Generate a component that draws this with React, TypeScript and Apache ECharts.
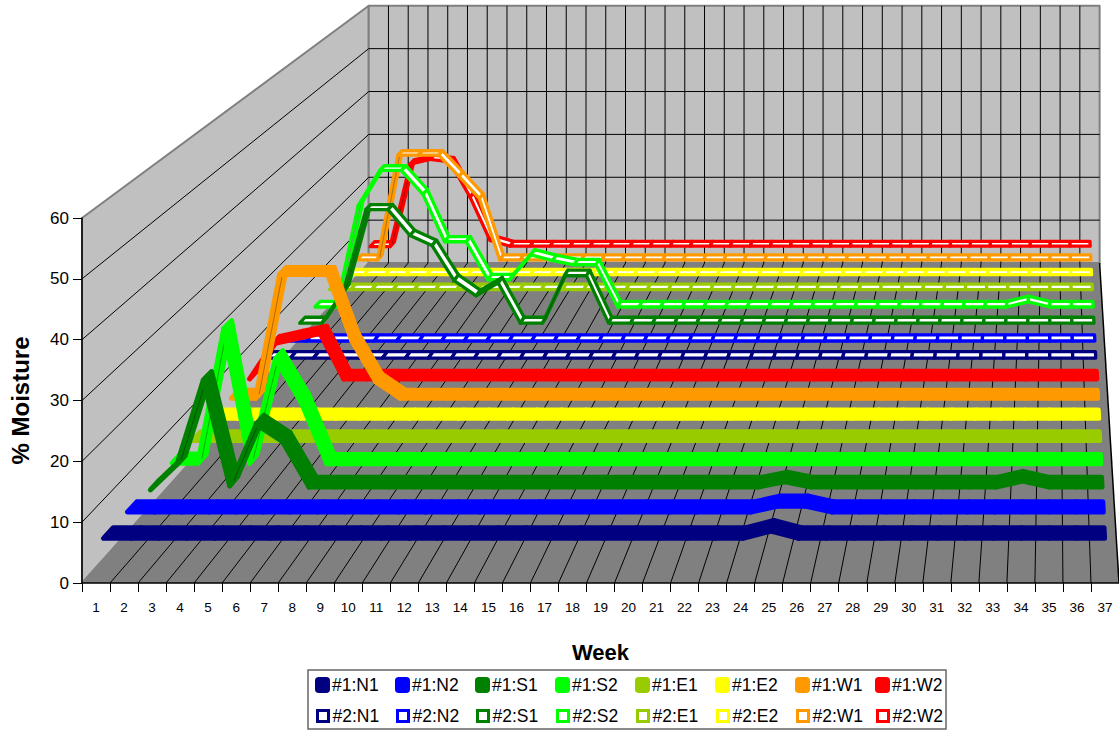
import React, { useEffect, useRef } from "react";
import * as echarts from "echarts";

// Week labels along the front edge of the floor
const weeks = ["1","2","3","4","5","6","7","8","9","10","11","12","13","14","15","16","17","18","19","20","21","22","23","24","25","26","27","28","29","30","31","32","33","34","35","36","37"];

// Moisture readings, one list per probe; front-most ribbon first
const p1N1 = [6,6,6,6,6,6,6,6,6,6,6,6,6,6,6,6,6,6,6,6,6,6,6,6,7.2,6,6,6,6,6,6,6,6,6,6,6,6];
const p1N2 = [6,6,6,6,6,6,6,6,6,6,6,6,6,6,6,6,6,6,6,6,6,6,6,6,7,7,6,6,6,6,6,6,6,6,6,6,6];
const p1S1 = [5.5,9.9,24.6,6.2,16.9,13.9,6,6,6,6,6,6,6,6,6,6,6,6,6,6,6,6,6,6,6.9,6,6,6,6,6,6,6,6,7.05,6,6,6];
const p1S2 = [6,6,30,6,24.6,16.9,5.9,5.9,5.9,5.9,5.9,5.9,5.9,5.9,5.9,5.9,5.9,5.9,5.9,5.9,5.9,5.9,5.9,5.9,5.9,5.9,5.9,5.9,5.9,5.9,5.9,5.9,5.9,5.9,5.9,5.9,5.9];
const p1E1 = [6,6,6,6,6,6,6,6,6,6,6,6,6,6,6,6,6,6,6,6,6,6,6,6,6,6,6,6,6,6,6,6,6,6,6,6,6];
const p1E2 = [6.1,6.1,6.1,6.1,6.1,6.1,6.1,6.1,6.1,6.1,6.1,6.1,6.1,6.1,6.1,6.1,6.1,6.1,6.1,6.1,6.1,6.1,6.1,6.1,6.1,6.1,6.1,6.1,6.1,6.1,6.1,6.1,6.1,6.1,6.1,6.1,6.1];
const p1W1 = [6,6,29.7,29.7,29.7,17,9.1,6,6,6,6,6,6,6,6,6,6,6,6,6,6,6,6,6,6,6,6,6,6,6,6,6,6,6,6,6,6];
const p1W2 = [5.9,12.8,13.8,14.8,5.9,5.9,5.9,5.9,5.9,5.9,5.9,5.9,5.9,5.9,5.9,5.9,5.9,5.9,5.9,5.9,5.9,5.9,5.9,5.9,5.9,5.9,5.9,5.9,5.9,5.9,5.9,5.9,5.9,5.9,5.9,5.9,5.9];
const p2N1 = [6.2,6.2,6.2,6.2,6.2,6.2,6.2,6.2,6.2,6.2,6.2,6.2,6.2,6.2,6.2,6.2,6.2,6.2,6.2,6.2,6.2,6.2,6.2,6.2,6.2,6.2,6.2,6.2,6.2,6.2,6.2,6.2,6.2,6.2,6.2,6.2,6.2];
const p2N2 = [6,6,6,6,6,6,6,6,6,6,6,6,6,6,6,6,6,6,6,6,6,6,6,6,6,6,6,6,6,6,6,6,6,6,6,6,6];
const p2S1 = [6.1,6.1,13,29.8,29.8,24.4,22.3,15,11.8,14.5,6.1,6.1,16,16,6.1,6.1,6.1,6.1,6.1,6.1,6.1,6.1,6.1,6.1,6.1,6.1,6.1,6.1,6.1,6.1,6.1,6.1,6.1,6.1,6.1,6.1,6.1];
const p2S2 = [6,6,27.6,35.1,35.1,30,19.9,19.9,11.8,11.8,17.1,15.9,15,15,6,6,6,6,6,6,6,6,6,6,6,6,6,6,6,6,6,6,6,7.1,6,6,6];
const p2E1 = [6.3,6.3,6.3,6.3,6.3,6.3,6.3,6.3,6.3,6.3,6.3,6.3,6.3,6.3,6.3,6.3,6.3,6.3,6.3,6.3,6.3,6.3,6.3,6.3,6.3,6.3,6.3,6.3,6.3,6.3,6.3,6.3,6.3,6.3,6.3,6.3,6.3];
const p2E2 = [6.2,6.2,6.2,6.2,6.2,6.2,6.2,6.2,6.2,6.2,6.2,6.2,6.2,6.2,6.2,6.2,6.2,6.2,6.2,6.2,6.2,6.2,6.2,6.2,6.2,6.2,6.2,6.2,6.2,6.2,6.2,6.2,6.2,6.2,6.2,6.2,6.2];
const p2W1 = [6.2,6.2,29.9,29.9,29.9,25.1,20.1,6.2,6.2,6.2,6.2,6.2,6.2,6.2,6.2,6.2,6.2,6.2,6.2,6.2,6.2,6.2,6.2,6.2,6.2,6.2,6.2,6.2,6.2,6.2,6.2,6.2,6.2,6.2,6.2,6.2,6.2];
const p2W2 = [6,6,25,26.1,25.5,17.4,7.4,6.1,6.1,6.1,6.1,6.1,6.1,6.1,6.1,6.1,6.1,6.1,6.1,6.1,6.1,6.1,6.1,6.1,6.1,6.1,6.1,6.1,6.1,6.1,6.1,6.1,6.1,6.1,6.1,6.1,6.1];

const probeColors = ["#000080", "#0000ff", "#008000", "#00ff00", "#99cc00", "#ffff00", "#ff9900", "#ff0000"];
const probeNames = ["N1", "N2", "S1", "S2", "E1", "E2", "W1", "W2"];
const firstSite = [p1N1, p1N2, p1S1, p1S2, p1E1, p1E2, p1W1, p1W2];
const secondSite = [p2N1, p2N2, p2S1, p2S2, p2E1, p2E2, p2W1, p2W2];

// Perspective of the 3D box: front-plane pixels shrink toward this point with depth
const VANISH_X = 1053.3;
const VANISH_Y = -501;
const DEPTH_K = 0.4188;
const SOLID_DEPTH = 0.4 / 16;
const HOLLOW_DEPTH = 0.35 / 16;

function project(p: number[], depth: number) {
  const s = 1 / (1 + DEPTH_K * depth);
  return [VANISH_X + (p[0] - VANISH_X) * s, VANISH_Y + (p[1] - VANISH_Y) * s];
}

// One ribbon segment per week-to-week step, lying at a fixed depth slot
function ribbonRenderer(values: number[], slot: number, color: string, hollow: boolean) {
  const center = (slot + 0.5) / 16;
  const half = (hollow ? HOLLOW_DEPTH : SOLID_DEPTH) / 2;
  const z0 = center - half;
  const z1 = center + half;
  return (params: any, api: any) => {
    const i = params.dataIndex;
    if (i >= values.length - 1) return null;
    const a = api.coord([i, values[i]]);
    const b = api.coord([i + 1, values[i + 1]]);
    const af = project(a, z0);
    const bf = project(b, z0);
    const ab = project(a, z1);
    const bb = project(b, z1);
    const children: any[] = [
      {
        type: "polygon",
        shape: { points: [af, bf, bb, ab] },
        style: {
          fill: hollow ? "#ffffff" : color,
          stroke: color,
          lineWidth: hollow ? 3.3 : 5,
          lineJoin: "round",
        },
      },
    ];
    const dx = bf[0] - af[0];
    const dy = af[1] - bf[1];
    if (dy / dx > 2) {
      const mid0 = project(a, center);
      const mid1 = project(b, center);
      children.push({
        type: "line",
        shape: { x1: mid0[0], y1: mid0[1], x2: mid1[0], y2: mid1[1] },
        style: { stroke: "rgba(0,0,0,0.4)", lineWidth: 0.8 },
      });
    }
    return { type: "group", children };
  };
}

// Walls, floor and their grid lines, derived from the axes' own scales
function sceneRenderer(params: any, api: any) {
  const sys = params.coordSys;
  const band = sys.width / weeks.length;
  const bottom = sys.y + sys.height;
  const yOf = (v: number) => api.coord([0, v])[1];
  const back = (x: number, y: number) => project([x, y], 1);
  const left = sys.x;
  const right = sys.x + sys.width;
  const topY = yOf(60);

  const children: any[] = [];
  const wall = { fill: "#c0c0c0", stroke: "#808080", lineWidth: 2, lineJoin: "round" };
  children.push({
    type: "polygon",
    shape: { points: [[left, bottom], [left, topY], back(left, topY), back(left, bottom)] },
    style: wall,
  });
  children.push({
    type: "polygon",
    shape: { points: [back(left, bottom), back(left, topY), back(right, topY), back(right, bottom)] },
    style: wall,
  });

  const grid = { stroke: "#000000", lineWidth: 1 };
  const seg = (p: number[], q: number[], style: any = grid) =>
    children.push({ type: "line", shape: { x1: p[0], y1: p[1], x2: q[0], y2: q[1] }, style });

  for (const v of [10, 20, 30, 40, 50]) {
    const y = yOf(v);
    seg([left, y], back(left, y));
    seg(back(left, y), back(right, y));
  }
  for (let i = 1; i < weeks.length; i++) {
    const x = left + band * i;
    seg(back(x, topY), back(x, bottom));
  }
  children.push({
    type: "polygon",
    shape: { points: [[left, bottom], back(left, bottom), back(right, bottom), [right, bottom]] },
    style: { fill: "#808080" },
  });
  for (let i = 1; i < weeks.length; i++) {
    const x = left + band * i;
    seg([x, bottom], back(x, bottom));
  }
  seg([right, bottom], back(right, bottom), { stroke: "#000000", lineWidth: 1.5 });
  return { type: "group", children };
}

function makeSeries() {
  const all: any[] = [
    {
      type: "custom",
      name: "scene",
      silent: true,
      z: 1,
      data: [[0, 0]],
      renderItem: sceneRenderer,
    },
  ];
  const add = (site: string, lists: number[][], offset: number, hollow: boolean) => {
    lists.forEach((values, k) => {
      const slot = offset + k;
      all.push({
        type: "custom",
        name: `${site}:${probeNames[k]}`,
        silent: true,
        z: 30 - slot,
        itemStyle: { color: probeColors[k] },
        data: values.map((v, i) => [i, v]),
        renderItem: ribbonRenderer(values, slot, probeColors[k], hollow),
      });
    });
  };
  add("#1", firstSite, 0, false);
  add("#2", secondSite, 8, true);
  return all;
}

function makeLegends() {
  const entries: any[] = [];
  probeNames.forEach((name, k) => {
    const shared = { orient: "horizontal", padding: 0, selectedMode: false };
    entries.push({
      ...shared,
      left: 315 + k * 80,
      top: 676,
      itemWidth: 15,
      itemHeight: 16,
      textStyle: { fontFamily: "Liberation Sans", fontSize: 17.5, color: "#000", padding: [0, 0, 0, -3] },
      data: [{ name: `#1:${name}`, icon: "roundRect", itemStyle: { color: probeColors[k], borderWidth: 0 } }],
    });
    entries.push({
      ...shared,
      left: 316 + k * 80,
      top: 707,
      itemWidth: 11,
      itemHeight: 11,
      textStyle: { fontFamily: "Liberation Sans", fontSize: 17.5, color: "#000", padding: [0, 0, 0, -1] },
      data: [{
        name: `#2:${name}`,
        icon: "rect",
        itemStyle: { color: "#ffffff", borderColor: probeColors[k], borderWidth: 3 },
      }],
    });
  });
  return entries;
}

export default function App() {
  const ref = useRef<HTMLDivElement>(null);
  useEffect(() => {
    const chart = echarts.init(ref.current!, undefined, { renderer: "svg" });
    chart.setOption({
      animation: false,
      backgroundColor: "#ffffff",
      textStyle: { fontFamily: "Liberation Sans" },
      grid: { left: 81, top: 218, width: 1040, height: 365, containLabel: false },
      xAxis: {
        type: "category",
        data: weeks,
        z: 10,
        name: "Week",
        nameLocation: "middle",
        nameGap: 58,
        nameTextStyle: { fontFamily: "Liberation Sans", fontSize: 22, fontWeight: "bold", color: "#000" },
        axisLine: { show: true, lineStyle: { color: "#000", width: 1.5 } },
        axisTick: { show: true, alignWithLabel: false, length: 9, lineStyle: { color: "#000", width: 1 } },
        axisLabel: { interval: 0, margin: 17, fontFamily: "Liberation Sans", fontSize: 13.5, color: "#000" },
        splitLine: { show: false },
      },
      yAxis: {
        type: "value",
        min: 0,
        max: 60,
        interval: 10,
        z: 10,
        name: "% Moisture",
        nameLocation: "middle",
        nameRotate: 90,
        nameGap: 50,
        nameTextStyle: { fontFamily: "Liberation Sans", fontSize: 24, fontWeight: "bold", color: "#000" },
        axisLine: { show: true, lineStyle: { color: "#000", width: 1.5 } },
        axisTick: { show: true, length: 9, lineStyle: { color: "#000", width: 1 } },
        axisLabel: { margin: 13, fontFamily: "Liberation Sans", fontSize: 17, color: "#000" },
        splitLine: { show: false },
      },
      legend: makeLegends(),
      graphic: [
        {
          type: "rect",
          z: 0,
          silent: true,
          shape: { x: 308, y: 670, width: 638, height: 59 },
          style: { fill: "#ffffff", stroke: "#666666", lineWidth: 1.5 },
        },
      ],
      series: makeSeries(),
    });
    return () => chart.dispose();
  }, []);
  return <div ref={ref} style={{ position: "fixed", left: 0, top: 0, width: 1119, height: 731 }} />;
}
